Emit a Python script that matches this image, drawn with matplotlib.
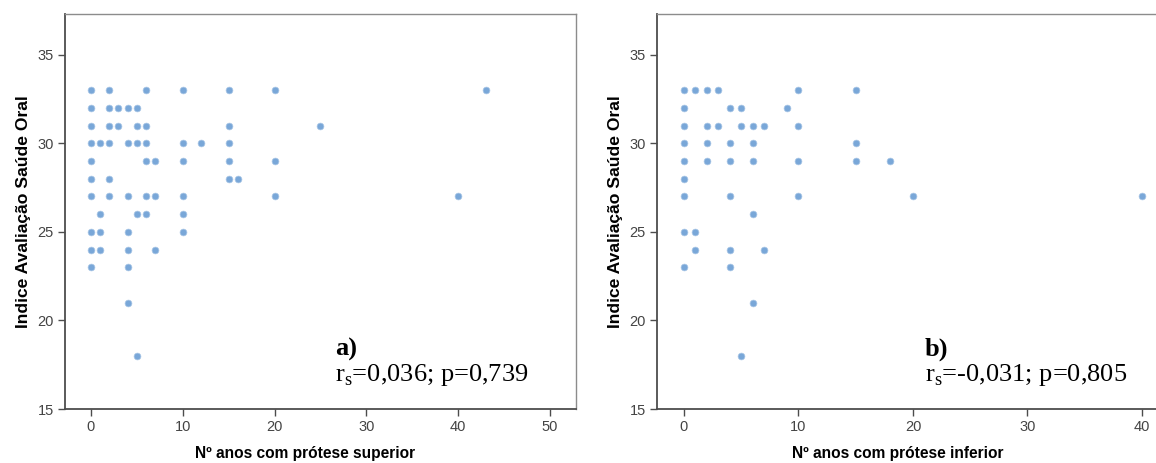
import matplotlib
matplotlib.use("Agg")
import matplotlib.pyplot as plt

# anos com prótese superior vs índice (painel a)
anos_sup = [0, 2, 6, 10, 15, 20, 43,
            0, 2, 3, 4, 5,
            0, 2, 3, 5, 6, 15, 25,
            0, 1, 2, 4, 5, 6, 10, 12, 15,
            0, 6, 7, 10, 15, 20,
            0, 2, 15, 16,
            0, 2, 4, 6, 7, 10, 20, 40,
            1, 5, 6, 10,
            0, 1, 4, 10,
            0, 1, 4, 7,
            0, 4,
            4,
            5]
indice_sup = [33] * 7 + [32] * 5 + [31] * 7 + [30] * 9 + [29] * 6 + [28] * 4 + \
             [27] * 8 + [26] * 4 + [25] * 4 + [24] * 4 + [23] * 2 + [21] + [18]

# anos com prótese inferior vs índice (painel b)
anos_inf = [0, 1, 2, 3, 10, 15,
            0, 4, 5, 9,
            0, 2, 3, 5, 6, 7, 10,
            0, 2, 4, 6, 15,
            0, 2, 4, 6, 10, 15, 18,
            0,
            0, 4, 10, 20, 40,
            6,
            0, 1,
            1, 4, 7,
            0, 4,
            6,
            5]
indice_inf = [33] * 6 + [32] * 4 + [31] * 7 + [30] * 5 + [29] * 7 + [28] + \
             [27] * 5 + [26] + [25] * 2 + [24] * 3 + [23] * 2 + [21] + [18]

xticks_sup = [0, 10, 20, 30, 40, 50]
xticks_inf = [0, 10, 20, 30, 40]
yticks = [15, 20, 25, 30, 35]

stats_txt = ["r$_\\mathregular{s}$=0,036; p=0,739", "r$_\\mathregular{s}$=-0,031; p=0,805"]
letras = ["a)", "b)"]
xlabels = ["Nº anos com prótese superior", "Nº anos com prótese inferior"]

plt.rcParams['font.family'] = ['Liberation Sans', 'DejaVu Sans']

fig = plt.figure(figsize=(11.56, 4.63), dpi=100)
ax1 = fig.add_axes([0.0562, 0.1166, 0.442, 0.853])
ax2 = fig.add_axes([0.5683, 0.1166, 0.4369, 0.853])

cor = '#79a7d8'
dark = '#4d4d4d'

paineis = [
    (ax1, anos_sup, indice_sup, xlabels[0], (-2.83, 52.83), xticks_sup, stats_txt[0], letras[0], 0.2898, 0.47),
    (ax2, anos_inf, indice_inf, xlabels[1], (-2.36, 41.75), xticks_inf, stats_txt[1], letras[1], 0.800, 0.477),
]

for ax, xs, ys, xl, lim, xt, txt, let, fx, lx in paineis:
    ax.scatter(xs, ys, s=24, color=cor, edgecolors='#a9c6e6', linewidths=0.5, zorder=3)
    ax.set_xlim(*lim)
    ax.set_ylim(15, 37.3)
    ax.set_xticks(xt)
    ax.set_yticks(yticks)
    ax.tick_params(direction='out', length=5, width=1, color=dark,
                   labelcolor='#444444', labelsize=10.5, pad=3)
    for s in ['left', 'bottom']:
        ax.spines[s].set_color(dark)
        ax.spines[s].set_linewidth(1.3)
    for s in ['top', 'right']:
        ax.spines[s].set_color('#8c8c8c')
        ax.spines[s].set_linewidth(1.0)
    ax.set_xlabel(xl, fontsize=11.2, fontweight='bold')
    ax.xaxis.set_label_coords(lx, -0.094)
    ax.set_ylabel("Indice Avaliação Saúde Oral", fontsize=12.6, fontweight='bold', labelpad=5)
    fig.text(fx, 0.231, let, fontsize=19, fontweight='bold', family='Liberation Serif')
    fig.text(fx, 0.177, txt, fontsize=19, family='Liberation Serif')

fig.savefig("out.png", dpi=100)
